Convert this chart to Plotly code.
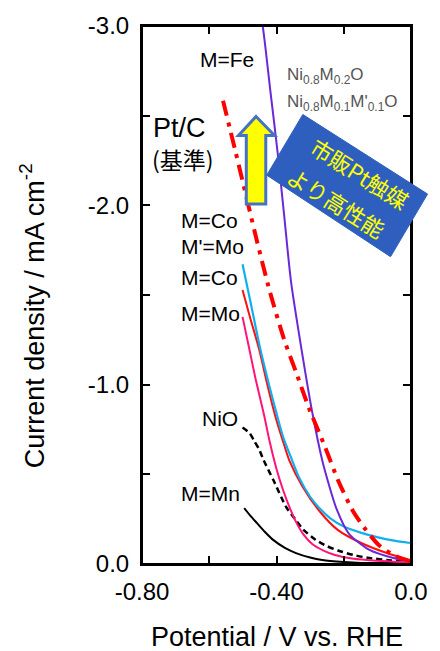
import plotly.graph_objects as go

# ---------------- data ----------------
fe_x = [-0.470, -0.441, -0.419, -0.397, -0.377, -0.357, -0.325, -0.293, -0.264, -0.248, -0.222, -0.185, -0.125, -0.052, -0.003]
fe_y = [-3.30, -3.00, -2.65, -2.30, -1.94, -1.578, -1.19, -0.839, -0.578, -0.467, -0.31, -0.17, -0.08, -0.033, -0.015]

ptc_x = [-0.559, -0.522, -0.490, -0.458, -0.420, -0.377, -0.340, -0.304, -0.255, -0.217, -0.174, -0.140, -0.096, -0.052, -0.003]
ptc_y = [-2.583, -2.30, -2.05, -1.80, -1.52, -1.25, -1.06, -0.872, -0.65, -0.467, -0.30, -0.205, -0.106, -0.05, -0.015]

como_x = [-0.501, -0.475, -0.449, -0.420, -0.400, -0.380, -0.356, -0.333, -0.300, -0.275, -0.240, -0.197, -0.150, -0.101, -0.050, -0.003]
como_y = [-1.672, -1.44, -1.206, -0.983, -0.84, -0.706, -0.59, -0.483, -0.375, -0.317, -0.255, -0.206, -0.175, -0.150, -0.130, -0.117]

co_x = [-0.501, -0.478, -0.452, -0.426, -0.400, -0.380, -0.362, -0.322, -0.270, -0.217, -0.148, -0.072, -0.003]
co_y = [-1.528, -1.37, -1.20, -0.99, -0.80, -0.68, -0.578, -0.43, -0.29, -0.189, -0.117, -0.061, -0.022]

mo_x = [-0.501, -0.481, -0.462, -0.438, -0.420, -0.400, -0.380, -0.362, -0.342, -0.320, -0.293, -0.260, -0.226, -0.180, -0.130, -0.003]
mo_y = [-1.378, -1.20, -1.03, -0.839, -0.68, -0.53, -0.41, -0.32, -0.235, -0.165, -0.11, -0.075, -0.05, -0.032, -0.022, -0.008]

nio_x = [-0.501, -0.480, -0.467, -0.452, -0.438, -0.409, -0.371, -0.342, -0.322, -0.284, -0.250, -0.217, -0.170, -0.130, -0.060, -0.003]
nio_y = [-0.761, -0.73, -0.689, -0.64, -0.578, -0.467, -0.317, -0.244, -0.195, -0.135, -0.10, -0.075, -0.05, -0.035, -0.02, -0.012]

mn_x = [-0.496, -0.478, -0.458, -0.435, -0.409, -0.375, -0.342, -0.300, -0.264, -0.200, -0.148, -0.003]
mn_y = [-0.311, -0.27, -0.228, -0.18, -0.133, -0.09, -0.061, -0.036, -0.022, -0.011, -0.006, -0.005]

x_tickvals = [-0.8, -0.6, -0.4, -0.2, 0.0]
x_ticktext = ["-0.80", "", "-0.40", "", "0.0"]
y_tickvals = [0.0, -0.5, -1.0, -1.5, -2.0, -2.5, -3.0]
y_ticktext = ["0.0", "", "-1.0", "", "-2.0", "", "-3.0"]

# ---------------- layout geometry ----------------
W, H = 440, 651
ML, MR, MT, MB = 142, 22, 23, 87
PW, PH = W - ML - MR, H - MT - MB


def px(x):
    return (x - ML) / PW


def py(y):
    return (H - MB - y) / PH


LAT = "Liberation Sans, Arial, sans-serif"
CJK = "Noto Sans CJK JP, sans-serif"

fig = go.Figure()


def add(x, y, color, width, dash="solid"):
    fig.add_trace(go.Scatter(x=x, y=y, mode="lines",
                             line=dict(color=color, width=width, dash=dash, shape="spline", smoothing=0.7),
                             showlegend=False, hoverinfo="skip"))


add(mn_x, mn_y, "#000000", 2)
add(nio_x, nio_y, "#000000", 2.5, "6px,4px")
add(mo_x, mo_y, "#FF1477", 2)
add(co_x, co_y, "#FF1010", 2)
add(como_x, como_y, "#10B0EE", 2.2)
add(fe_x, fe_y, "#6A28D8", 2)
add(ptc_x, ptc_y, "#FF0000", 4, "15px,7px,4px,7px")


# ---------------- shapes: frame, arrow and blue box ----------------
def path(pts):
    return "M " + " L ".join(f"{px(a):.5f},{py(b):.5f}" for a, b in pts) + " Z"


arrow_pts = [(259, 114), (278, 133), (269, 133), (269, 202), (249, 202), (249, 133), (241, 133)]
box_pts = [(307, 112), (435, 192), (397, 255), (270, 173)]

fig.add_shape(type="rect", xref="paper", yref="paper", x0=0, y0=0, x1=1, y1=1,
              line=dict(color="#000000", width=2), layer="above")
fig.add_shape(type="path", path=path(arrow_pts), xref="paper", yref="paper",
              fillcolor="#FFFF00", line=dict(color="#4472C4", width=3), layer="above")
fig.add_shape(type="path", path=path(box_pts), xref="paper", yref="paper",
              fillcolor="#2F5FBE", line=dict(color="#2F5FBE", width=1), layer="above")

ann = []


def label(text, x, y, size, color="#000000", family=LAT, xanchor="left", angle=0):
    ann.append(dict(text=text, x=px(x), y=py(y), xref="paper", yref="paper",
                    xanchor=xanchor, yanchor="middle", showarrow=False,
                    textangle=angle, font=dict(size=size, color=color, family=family)))


label("M=Fe", 199, 57, 21)
label("Ni<sub>0.8</sub>M<sub>0.2</sub>O", 289, 73, 17, "#555555")
label("Ni<sub>0.8</sub>M<sub>0.1</sub>M'<sub>0.1</sub>O", 289, 100, 17, "#555555")
label("Pt/C", 151, 126, 27)
label("(基準)", 150, 157, 23, family=CJK)
label("M=Co", 180, 219, 21)
label("M'=Mo", 180, 245, 21)
label("M=Co", 180, 276, 21)
label("M=Mo", 180, 312, 21)
label("NiO", 201, 418, 21)
label("M=Mn", 180, 493, 21)
label("市販Pt触媒", 366, 171, 22, "#FFFF00", CJK, "center", 32)
label("より高性能", 342, 200, 22, "#FFFF00", CJK, "center", 32)

# axis titles
label("Current density / mA cm<sup>-2</sup>", 30, 314, 27, xanchor="center", angle=-90)
label("Potential / V vs. RHE", 280, 637, 27, xanchor="center")

axis_common = dict(showline=True, linecolor="#000000", linewidth=2, mirror="ticks",
                   ticks="inside", ticklen=8, tickwidth=1.5, tickcolor="#000000",
                   showgrid=False, zeroline=False,
                   tickfont=dict(family=LAT, size=24, color="#000000"))

fig.update_layout(
    width=W, height=H,
    margin=dict(l=ML, r=MR, t=MT, b=MB),
    paper_bgcolor="#FFFFFF", plot_bgcolor="#FFFFFF",
    xaxis=dict(range=[-0.8, 0.0], tickmode="array", tickvals=x_tickvals, ticktext=x_ticktext,
               ticklabelstandoff=5, **axis_common),
    yaxis=dict(range=[0.0, -3.0], tickmode="array", tickvals=y_tickvals, ticktext=y_ticktext,
               ticklabelstandoff=6, **axis_common),
    annotations=ann,
    showlegend=False,
)

fig.write_html("out.html")
